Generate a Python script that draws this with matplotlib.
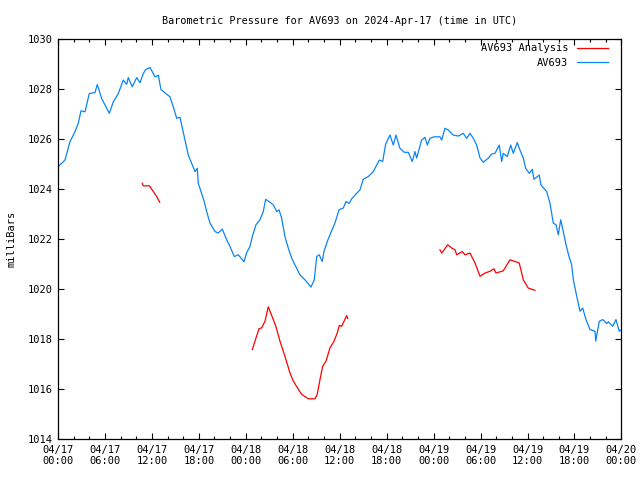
import numpy as np
import matplotlib
matplotlib.use('Agg')
import matplotlib.pyplot as plt
from matplotlib.ticker import MultipleLocator

# hours since 2024-04-17 00:00 UTC, pressure in mbar
hrs_obs = [0.0, 0.89, 1.53, 2.17, 2.59, 2.94, 3.45, 4.0, 4.73, 5.02, 5.58, 6.56, 7.07, 7.71,
           8.34, 8.78, 8.98, 9.49, 10.06, 10.48, 10.9, 11.21, 11.76, 12.4, 12.82, 13.16, 13.67,
           14.31, 14.73, 15.17, 15.59, 16.23, 16.65, 17.51, 17.8, 17.93, 18.14, 18.69, 19.0,
           19.42, 20.06, 20.48, 20.99, 21.56, 21.98, 22.53, 23.04, 23.77, 24.11, 24.53, 24.83,
           25.3, 25.81, 26.23, 26.54, 26.96, 27.51, 27.95, 28.24, 28.58, 29.0, 29.43, 29.86,
           30.28, 30.92, 31.56, 32.33, 32.75, 33.06, 33.39, 33.77, 33.99, 34.41, 34.85, 35.39,
           35.91, 36.46, 36.8, 37.22, 37.53, 38.59, 39.01, 39.65, 40.29, 41.06, 41.49, 41.87,
           42.42, 42.85, 43.19, 43.7, 44.25, 44.76, 45.27, 45.62, 45.83, 46.47, 46.9, 47.19,
           47.53, 48.08, 48.81, 49.03, 49.45, 49.87, 50.51, 51.15, 51.79, 52.22, 52.65, 53.07,
           53.5, 53.93, 54.35, 54.99, 55.42, 55.84, 56.39, 56.7, 56.9, 57.41, 57.85, 58.18,
           58.69, 59.03, 59.46, 59.76, 60.22, 60.61, 60.82, 61.5, 61.72, 62.45, 62.87, 63.29,
           63.64, 63.93, 64.24, 64.57, 64.92, 65.3, 65.64, 65.85, 66.29, 66.71, 67.05, 67.47,
           67.98, 68.62, 68.71, 69.17, 69.61, 70.12, 70.33, 70.88, 71.3, 71.72, 72.0]
p_obs = [1024.9, 1025.17, 1025.9, 1026.3, 1026.64, 1027.14, 1027.1, 1027.83, 1027.87, 1028.19,
         1027.63, 1027.04, 1027.5, 1027.83, 1028.37, 1028.2, 1028.47, 1028.1, 1028.47, 1028.26,
         1028.63, 1028.79, 1028.87, 1028.5, 1028.56, 1027.99, 1027.86, 1027.7, 1027.3, 1026.84,
         1026.88, 1025.97, 1025.37, 1024.71, 1024.84, 1024.24, 1024.04, 1023.51, 1023.11,
         1022.65, 1022.31, 1022.25, 1022.41, 1021.98, 1021.71, 1021.31, 1021.38, 1021.1,
         1021.47, 1021.71, 1022.11, 1022.58, 1022.78, 1023.11, 1023.6, 1023.51, 1023.38,
         1023.11, 1023.18, 1022.85, 1022.11, 1021.65, 1021.25, 1020.98, 1020.58, 1020.38,
         1020.09, 1020.38, 1021.31, 1021.38, 1021.11, 1021.51, 1021.91, 1022.25, 1022.65,
         1023.18, 1023.25, 1023.51, 1023.44, 1023.62, 1023.98, 1024.4, 1024.51, 1024.71,
         1025.17, 1025.11, 1025.81, 1026.17, 1025.77, 1026.17, 1025.64, 1025.48, 1025.48,
         1025.11, 1025.51, 1025.25, 1025.97, 1026.08, 1025.77, 1026.04, 1026.1, 1026.1,
         1025.97, 1026.44, 1026.37, 1026.17, 1026.13, 1026.24, 1026.04, 1026.24, 1026.04,
         1025.77, 1025.25, 1025.08, 1025.25, 1025.41, 1025.44, 1025.77, 1025.11, 1025.44,
         1025.31, 1025.77, 1025.44, 1025.87, 1025.57, 1025.25, 1024.84, 1024.64, 1024.8,
         1024.4, 1024.57, 1024.17, 1023.91, 1023.44, 1022.65, 1022.58, 1022.18, 1022.78,
         1022.31, 1021.78, 1021.31, 1020.98, 1020.38, 1019.72, 1019.12, 1019.25, 1018.79,
         1018.39, 1018.32, 1017.93, 1018.72, 1018.79, 1018.63, 1018.7, 1018.52, 1018.79,
         1018.32, 1018.39]

# analysis, three separate runs
hrs_an1 = [10.77, 10.9, 11.67, 12.18, 12.61, 13.0]
p_an1 = [1024.24, 1024.14, 1024.14, 1023.91, 1023.71, 1023.48]
hrs_an2 = [24.83, 25.17, 25.68, 26.03, 26.45, 26.87, 27.09, 27.51, 27.86, 28.37, 29.0, 29.64,
           30.07, 30.71, 31.14, 31.98, 32.84, 33.13, 33.48, 33.82, 34.24, 34.76, 35.27, 35.69,
           35.95, 36.25, 36.55, 36.89, 37.02]
p_an2 = [1017.59, 1017.92, 1018.42, 1018.46, 1018.72, 1019.3, 1019.12, 1018.79, 1018.5,
         1017.92, 1017.32, 1016.66, 1016.33, 1016.0, 1015.8, 1015.62, 1015.62, 1015.8,
         1016.39, 1016.92, 1017.12, 1017.66, 1017.92, 1018.26, 1018.55, 1018.52, 1018.72,
         1018.95, 1018.83]
hrs_an3 = [48.81, 49.03, 49.8, 50.31, 50.73, 50.95, 51.66, 52.01, 52.65, 53.29, 53.93, 54.56,
           55.2, 55.71, 55.97, 56.9, 57.76, 58.61, 58.94, 59.46, 60.09, 60.95]
p_an3 = [1021.58, 1021.45, 1021.78, 1021.65, 1021.58, 1021.38, 1021.51, 1021.38, 1021.45,
         1021.05, 1020.52, 1020.65, 1020.72, 1020.82, 1020.65, 1020.74, 1021.18, 1021.09,
         1021.05, 1020.38, 1020.05, 1019.96]

xticklabels = ['04/17\n00:00', '04/17\n06:00', '04/17\n12:00', '04/17\n18:00',
               '04/18\n00:00', '04/18\n06:00', '04/18\n12:00', '04/18\n18:00',
               '04/19\n00:00', '04/19\n06:00', '04/19\n12:00', '04/19\n18:00',
               '04/20\n00:00']

plt.rcParams['font.family'] = 'DejaVu Sans Mono'
plt.rcParams['font.size'] = 7.5

fig = plt.figure(figsize=(6.4, 4.8), dpi=100)
ax = fig.add_axes([0.0906, 0.0848, 0.8804, 0.8333])

red = '#ff0000'
blue = '#0a84f5'
ax.plot(hrs_an1, p_an1, color=red, lw=0.9, label='AV693 Analysis')
ax.plot(hrs_an2, p_an2, color=red, lw=0.9)
ax.plot(hrs_an3, p_an3, color=red, lw=0.9)
ax.plot(hrs_obs, p_obs, color=blue, lw=0.9, label='AV693')

ax.set_xlim(0, 72)
ax.set_ylim(1014, 1030)
ax.set_xticks(np.arange(0, 73, 6))
ax.set_xticklabels(xticklabels)
ax.xaxis.set_minor_locator(MultipleLocator(2))
ax.set_yticks(np.arange(1014, 1031, 2))
ax.tick_params(which='both', direction='in', top=True, right=True, width=0.8)
ax.tick_params(which='major', length=4.5, pad=4)
ax.tick_params(which='minor', length=2.5)
for s in ax.spines.values():
    s.set_linewidth(0.9)

ax.set_ylabel('milliBars', labelpad=8)
ax.set_title('Barometric Pressure for AV693 on 2024-Apr-17 (time in UTC)', fontsize=7.3, pad=11)
ax.legend(loc='upper right', bbox_to_anchor=(0.98, 0.995), frameon=False, markerfirst=False,
          handlelength=3.0, borderaxespad=0.0, borderpad=0.2, labelspacing=0.4,
          handletextpad=0.8)

plt.savefig('out.png', dpi=100)
